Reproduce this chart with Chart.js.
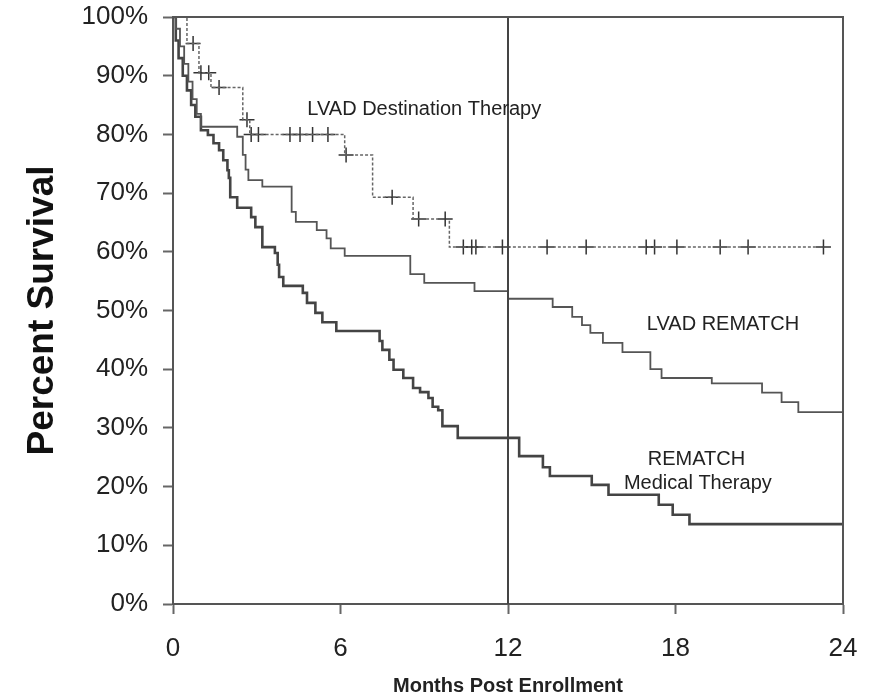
<!DOCTYPE html>
<html>
<head>
<meta charset="utf-8">
<script src="https://cdn.jsdelivr.net/npm/chart.js@4.4.0/dist/chart.umd.min.js"></script>
<style>
  body { margin: 0; background: #fff; }
  #wrap { width: 871px; height: 698px; position: relative; }
</style>
</head>
<body>
<div id="wrap"><canvas id="survival-chart"></canvas></div>
<script>
// LVAD destination therapy (dotted, with censor marks)
const dtTime = [0, 0.5, 0.93, 1.36, 2.5, 2.75, 6.15, 7.15, 8.6, 9.9, 23.3];
const dtSurv = [100, 95.5, 90.5, 88, 82.5, 80, 76.5, 69.3, 65.6, 60.8, 60.8];
const dtCensorTime = [0.72, 1.0, 1.28, 1.65, 2.65, 2.8, 3.06, 4.19, 4.55, 5.0, 5.55, 6.2,
    7.85, 8.8, 9.75, 10.4, 10.7, 10.85, 11.8, 13.4, 14.8, 16.95, 17.25, 18.05, 19.6, 20.6, 23.3];
const dtCensorSurv = [95.5, 90.5, 90.5, 88, 82.5, 80, 80, 80, 80, 80, 80, 76.5,
    69.3, 65.6, 65.6, 60.8, 60.8, 60.8, 60.8, 60.8, 60.8, 60.8, 60.8, 60.8, 60.8, 60.8, 60.8];

// LVAD REMATCH
const lvadTime = [0, 0.1, 0.25, 0.4, 0.55, 0.7, 0.85, 1.0, 2.3, 2.5, 2.6, 2.7, 3.2, 4.25, 4.4,
    5.15, 5.5, 5.65, 6.15, 8.5, 9.0, 10.8, 12.0, 13.6, 14.3, 14.65, 14.95, 15.4, 16.1, 17.1,
    17.5, 19.3, 21.1, 21.8, 22.4, 24];
const lvadSurv = [100, 98, 95, 92, 89, 86, 83.5, 81.3, 79.6, 76.5, 74, 72.2, 71.1, 66.8, 65.1,
    63.7, 62.3, 60.6, 59.3, 56.2, 54.7, 53.3, 52, 50.6, 48.9, 47.5, 46.2, 44.5, 42.9, 40,
    38.5, 37.6, 36, 34.4, 32.7, 32.7];

// REMATCH medical therapy
const medTime = [0, 0.1, 0.2, 0.35, 0.5, 0.65, 0.8, 1.0, 1.25, 1.45, 1.65, 1.8, 1.95, 2.0,
    2.05, 2.3, 2.8, 2.95, 3.2, 3.65, 3.75, 3.8, 3.95, 4.65, 4.8, 5.1, 5.35, 5.85, 7.4, 7.5,
    7.75, 7.9, 8.25, 8.6, 8.85, 9.15, 9.3, 9.5, 9.65, 10.2, 12.4, 13.25, 13.5, 15.0, 15.6,
    17.4, 17.9, 18.5, 24];
const medSurv = [100, 96, 93, 90, 87.5, 85, 83, 80.7, 79.9, 78.5, 77.3, 75.6, 73.9, 72.6,
    69.3, 67.5, 65.9, 64.2, 60.8, 59.8, 57.8, 55.7, 54.2, 53, 51.3, 49.6, 48, 46.5, 44.8, 43.3,
    41.6, 39.9, 38.5, 36.8, 36.1, 35.1, 33.6, 33, 30.3, 28.3, 25.2, 23.3, 21.8, 20.3, 18.6,
    16.9, 15.2, 13.6, 13.6];

const markerMonth = 12;
const xTicks = [0, 6, 12, 18, 24];
const yTicks = [0, 10, 20, 30, 40, 50, 60, 70, 80, 90, 100];

function toPoints(xs, ys) {
    return xs.map((x, i) => ({ x: x, y: ys[i] }));
}

// box around plot area + text labels inside it
const framePlugin = {
    id: "frame",
    afterDraw(chart) {
        const { ctx, chartArea: a, scales } = chart;
        ctx.save();
        ctx.strokeStyle = "#555";
        ctx.lineWidth = 2;
        ctx.beginPath();
        ctx.moveTo(a.left, a.top);
        ctx.lineTo(a.right, a.top);
        ctx.lineTo(a.right, a.bottom);
        ctx.stroke();

        ctx.fillStyle = "#222";
        ctx.textAlign = "center";
        ctx.textBaseline = "middle";
        ctx.font = "20px 'Liberation Sans', Arial, sans-serif";
        chart.options.plugins.frame.labels.forEach((l) => {
            ctx.fillText(l.text, scales.x.getPixelForValue(l.x), scales.y.getPixelForValue(l.y));
        });
        ctx.restore();
    },
};

const ctx = document.getElementById("survival-chart");

new Chart(ctx, {
    type: "line",
    data: {
        datasets: [
            {
                label: "12 months",
                data: [{ x: markerMonth, y: 0 }, { x: markerMonth, y: 100 }],
                borderColor: "#444",
                borderWidth: 2,
                pointRadius: 0,
            },
            {
                label: "LVAD Destination Therapy",
                data: toPoints(dtTime, dtSurv),
                stepped: "before",
                borderColor: "#666",
                borderWidth: 1.5,
                borderDash: [3, 2],
                pointRadius: 0,
            },
            {
                label: "DT censored",
                type: "scatter",
                data: toPoints(dtCensorTime, dtCensorSurv),
                pointStyle: "cross",
                pointRadius: 7.5,
                borderColor: "#333",
                borderWidth: 1.5,
                showLine: false,
            },
            {
                label: "LVAD REMATCH",
                data: toPoints(lvadTime, lvadSurv),
                stepped: "before",
                borderColor: "#555",
                borderWidth: 1.8,
                pointRadius: 0,
            },
            {
                label: "REMATCH Medical Therapy",
                data: toPoints(medTime, medSurv),
                stepped: "before",
                borderColor: "#444",
                borderWidth: 2.6,
                pointRadius: 0,
            },
        ],
    },
    options: {
        responsive: true,
        maintainAspectRatio: false,
        animation: false,
        layout: { padding: { top: 17, right: 28, left: 0, bottom: 0 } },
        plugins: {
            legend: { display: false },
            tooltip: { enabled: false },
            frame: {
                labels: [
                    { text: "LVAD Destination Therapy", x: 9.0, y: 84.2 },
                    { text: "LVAD REMATCH", x: 19.7, y: 47.7 },
                    { text: "REMATCH", x: 18.75, y: 24.6 },
                    { text: "Medical Therapy", x: 18.8, y: 20.5 },
                ],
            },
        },
        scales: {
            x: {
                type: "linear",
                min: 0,
                max: 24,
                afterFit: (scale) => {
                    scale.height = 94;
                    scale.paddingLeft = 0;
                    scale.paddingRight = 0;
                },
                afterBuildTicks: (scale) => { scale.ticks = xTicks.map((v) => ({ value: v })); },
                ticks: {
                    color: "#222",
                    padding: 19,
                    font: { size: 26, family: "'Liberation Sans', Arial, sans-serif" },
                },
                grid: { drawOnChartArea: false, tickLength: 10, tickColor: "#666", tickWidth: 2 },
                border: { color: "#555", width: 2 },
                title: {
                    display: true,
                    text: "Months Post Enrollment",
                    color: "#222",
                    padding: { top: 0, bottom: 0 },
                    font: { size: 20, weight: "bold", family: "'Liberation Sans', Arial, sans-serif" },
                },
            },
            y: {
                min: 0,
                max: 100,
                afterFit: (scale) => {
                    scale.width = 173;
                    scale.paddingTop = 0;
                    scale.paddingBottom = 0;
                },
                afterBuildTicks: (scale) => { scale.ticks = yTicks.map((v) => ({ value: v })); },
                ticks: {
                    color: "#222",
                    padding: 15,
                    callback: (v) => v + "%",
                    font: { size: 26, family: "'Liberation Sans', Arial, sans-serif" },
                },
                grid: { drawOnChartArea: false, tickLength: 10, tickColor: "#666", tickWidth: 2 },
                border: { color: "#555", width: 2 },
                title: {
                    display: true,
                    text: "Percent Survival",
                    color: "#111",
                    padding: { top: 21, bottom: 0 },
                    font: { size: 37, weight: "bold", family: "'Liberation Sans', Arial, sans-serif" },
                },
            },
        },
    },
    plugins: [framePlugin],
});
</script>
</body>
</html>
